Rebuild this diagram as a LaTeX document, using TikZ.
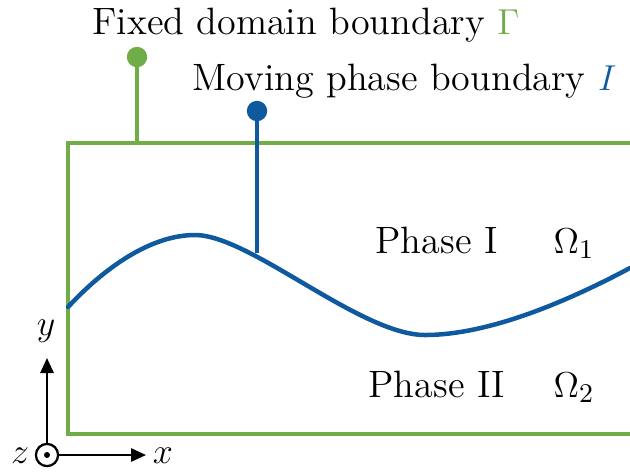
\documentclass[tikz,border=0pt]{standalone}
\usetikzlibrary{arrows.meta}
\definecolor{gfix}{HTML}{70AD47}
\definecolor{bmov}{HTML}{0F5A9E}
\begin{document}
\begin{tikzpicture}[x=0.3333pt,y=-0.3333pt,
  lbl/.style={font=\fontsize{12.7}{15}\selectfont, inner sep=0pt, anchor=base west},
  axlbl/.style={font=\fontsize{12.7}{15}\selectfont, inner sep=0pt, anchor=base},
  gline/.style={draw=gfix, line width=1.45pt},
  bline/.style={draw=bmov, line width=1.5pt},
  pin/.style={circle, inner sep=0pt, minimum size=6.8pt},
  axis/.style={draw=black, line width=0.75pt, -{Triangle[length=5pt,width=4.4pt]}}]
\useasboundingbox (0,0) rectangle (630,472);
\clip (0,0) rectangle (630,472);
% domain
\draw[gline] (700,143) -- (68,143) -- (68,434) -- (700,434);
\coordinate (gtop) at (137,143);
% interface curve
\coordinate (c0) at (68,307);
\coordinate (c1) at (195,235);
\coordinate (c2) at (425,335);
\coordinate (c3) at (630,268);
\coordinate (c4) at (700,236);
\draw[bline, line cap=round] (c0) .. controls (110,262) and (155,235) .. (c1)
  .. controls (250,235) and (360,335) .. (c2)
  .. controls (490,335) and (570,300) .. (c3) -- (c4);
\coordinate (btop) at (257,253);
% pins
\node[pin, fill=gfix] (gdot) at (137,57) {};
\node[pin, fill=bmov] (bdot) at (257,111) {};
\draw[gline] (gdot.center) -- (gtop);
\draw[bline] (bdot.center) -- (btop);
% labels
\node[lbl] (tfix) at (92,34) {Fixed domain boundary \textcolor{gfix}{$\Gamma$}};
\node[lbl] (tmov) at (192,90) {Moving phase boundary \textcolor{bmov}{$I$}};
\node[lbl] (p1) at (375,253) {Phase I};
\node[lbl] (o1) at (553,253) {$\Omega_1$};
\node[lbl] (p2) at (368,397) {Phase II};
\node[lbl] (o2) at (553,397) {$\Omega_2$};
% axes
\node[circle, draw=black, line width=0.75pt, inner sep=0pt, minimum size=7.4pt] (zc) at (47,455) {};
\fill (zc.center) circle (1pt);
\coordinate (yend) at (47,358);
\coordinate (xend) at (146,455);
\draw[axis] (zc.north) -- (yend);
\draw[axis] (zc.east) -- (xend);
\node[axlbl] (ly) at (46,335) {$y$};
\node[axlbl] (lx) at (163,463) {$x$};
\node[axlbl] (lz) at (20,463) {$z$};
\end{tikzpicture}
\end{document}
